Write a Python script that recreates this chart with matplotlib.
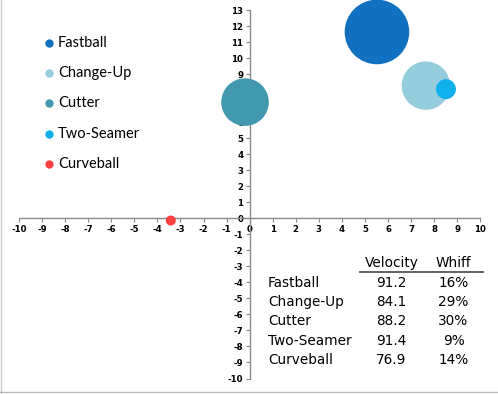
import matplotlib
matplotlib.use('Agg')
import matplotlib.pyplot as plt
from matplotlib.lines import Line2D

# pitch data
pitches = ['Fastball', 'Change-Up', 'Cutter', 'Two-Seamer', 'Curveball']
h_move = [5.52, 7.64, -0.2, 8.51, -3.42]
v_move = [11.63, 8.28, 7.25, 8.06, -0.14]
usage = [41.7, 23.4, 22.6, 4.0, 1.0]
velocity = ['91.2', '84.1', '88.2', '91.4', '76.9']
whiff = ['16%', '29%', '30%', '9%', '14%']
colors = ['#1170C0', '#95CDDC', '#4198AF', '#0FB0EB', '#FF4040']

x_ticks = list(range(-10, 11))
y_ticks = list(range(-10, 14))

plt.rcParams['axes.unicode_minus'] = False

fig = plt.figure(figsize=(4.98, 3.94), dpi=100)
ax = fig.add_axes([19 / 498, 1 - 378.5 / 394, 461.3 / 498, 368.5 / 394])

# bubbles, area proportional to usage
sizes = [u * 51.9 for u in usage]
for i in range(len(pitches)):
    ax.scatter(h_move[i], v_move[i], s=sizes[i], color=colors[i],
               edgecolors='none', clip_on=False, zorder=3)

ax.set_xlim(-10, 10)
ax.set_ylim(-10, 13)
ax.spines['left'].set_position(('data', 0))
ax.spines['bottom'].set_position(('data', 0))
ax.spines['right'].set_visible(False)
ax.spines['top'].set_visible(False)
for s in ['left', 'bottom']:
    ax.spines[s].set_color('#8a8a8a')
    ax.spines[s].set_linewidth(1.0)

ax.set_xticks(x_ticks)
ax.set_yticks(y_ticks)
ax.set_xticklabels([str(t) for t in x_ticks])
ax.set_yticklabels([str(t) for t in y_ticks])
ax.tick_params(axis='both', colors='#8a8a8a', length=3, width=0.8,
               labelcolor='black', labelsize=6.2, pad=2)
ax.tick_params(axis='y', pad=1.5)
for lab in ax.get_xticklabels() + ax.get_yticklabels():
    lab.set_fontweight('bold')
ax.patch.set_alpha(0)

# legend on the left
for i, name in enumerate(pitches):
    y = 1 - (43 + i * 30.2) / 394
    fig.add_artist(Line2D([49 / 498], [y], marker='o', markersize=6,
                          color=colors[i], markeredgewidth=0,
                          transform=fig.transFigure))
    fig.text(58 / 498, y, name, fontsize=10.5, family='Lato',
             va='center', ha='left')

# little table at lower right
fig.text(391.5 / 498, 1 - 263 / 394, 'Velocity', fontsize=9.8,
         ha='center', va='center')
fig.text(453.5 / 498, 1 - 263 / 394, 'Whiff', fontsize=9.8,
         ha='center', va='center')
fig.add_artist(Line2D([360 / 498, 483 / 498], [1 - 272.3 / 394] * 2,
                      color='#555555', linewidth=1.3,
                      transform=fig.transFigure))
for i, name in enumerate(pitches):
    y = 1 - (282.7 + i * 19.3) / 394
    fig.text(268 / 498, y, name, fontsize=9.8, ha='left', va='center')
    fig.text(391.5 / 498, y, velocity[i], fontsize=9.8, ha='center', va='center')
    fig.text(453.5 / 498, y, whiff[i], fontsize=9.8, ha='center', va='center')

# thin frame on left and bottom edge
fig.add_artist(Line2D([0.5 / 498, 0.5 / 498], [0, 1], color='#cccccc',
                      linewidth=1, transform=fig.transFigure))
fig.add_artist(Line2D([0, 1], [2.5 / 394, 2.5 / 394], color='#bbbbbb',
                      linewidth=1, transform=fig.transFigure))

fig.savefig('out.png', dpi=100)
